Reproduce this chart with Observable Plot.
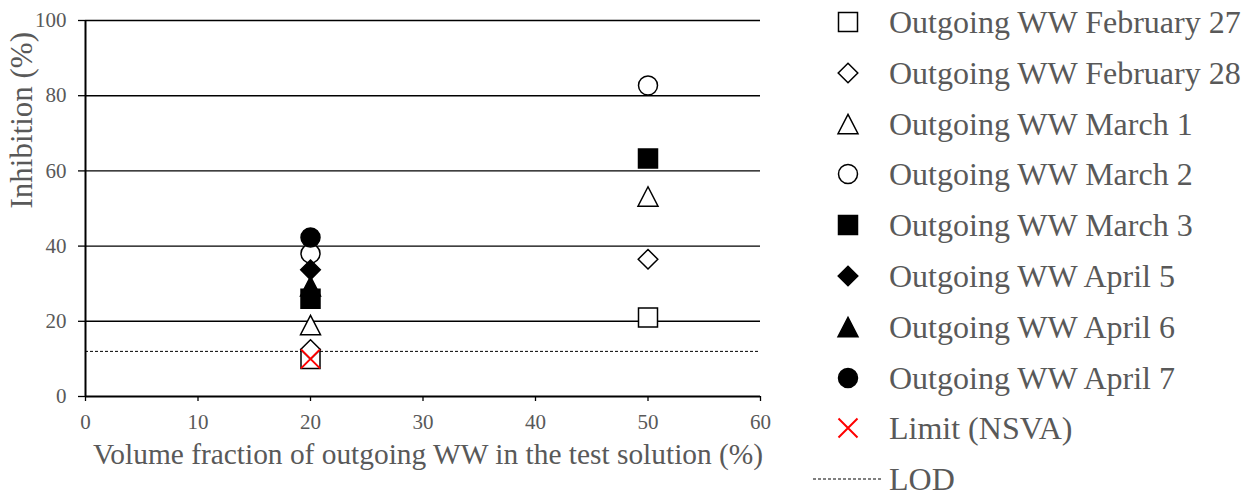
<!DOCTYPE html>
<html>
<head>
<meta charset="utf-8">
<script src="https://cdn.jsdelivr.net/npm/d3@7"></script>
<script src="https://cdn.jsdelivr.net/npm/@observablehq/plot@0.6"></script>
<style>
  html, body { margin: 0; padding: 0; background: #fff; }
  #wrap { position: relative; width: 1249px; height: 496px; font-family: "Liberation Serif", "Times New Roman", serif; }
  #chart { position: absolute; left: 0; top: 0; }
  #legend { position: absolute; left: 800px; top: 0; width: 449px; height: 496px; }
  .row { position: absolute; left: 0; height: 40px; display: flex; align-items: center; }
  .row svg { display: block; }
  .row span { position: absolute; left: 89px; font-size: 32px; color: #595959; white-space: nowrap; line-height: 40px; }
</style>
</head>
<body>
<div id="wrap"><div id="chart"></div><div id="legend"></div></div>
<script>
// ---- data ----
const seriesNames = [
  "Outgoing WW February 27",
  "Outgoing WW February 28",
  "Outgoing WW March 1",
  "Outgoing WW March 2",
  "Outgoing WW March 3",
  "Outgoing WW April 5",
  "Outgoing WW April 6",
  "Outgoing WW April 7"
];
const seriesFilled = [false, false, false, false, true, true, true, true];
const seriesShape = ["square", "diamond", "triangle", "circle", "square", "diamond", "triangle", "circle"];
const volumeFractions = [20, 50];
const inhibitionAt20 = [10, 12.5, 19, 38, 26, 33.7, 29.3, 42.3];
const inhibitionAt50 = [21, 36.5, 53.2, 82.7, 63.3, null, null, null];
const limitName = "Limit (NSVA)";
const limitX = [20];
const limitY = [10];
const lodName = "LOD";
const lodValue = 12;
const xTicks = [0, 10, 20, 30, 40, 50, 60];
const yTicks = [0, 20, 40, 60, 80, 100];
const xTitle = "Volume fraction of outgoing WW in the test solution (%)";
const yTitle = "Inhibition (%)";

// ---- symbols ----
const shapes = {
  square: {draw(c, size) { const r = Math.sqrt(size / Math.PI), s = 0.95 * r; c.moveTo(-s, -s); c.lineTo(s, -s); c.lineTo(s, s); c.lineTo(-s, s); c.closePath(); }},
  diamond: {draw(c, size) { const r = Math.sqrt(size / Math.PI), s = 0.98 * r; c.moveTo(0, -s); c.lineTo(s, 0); c.lineTo(0, s); c.lineTo(-s, 0); c.closePath(); }},
  triangle: {draw(c, size) { const r = Math.sqrt(size / Math.PI), w = r, h = 0.97 * r; c.moveTo(0, -h); c.lineTo(w, h); c.lineTo(-w, h); c.closePath(); }},
  circle: {draw(c, size) { const r = Math.sqrt(size / Math.PI) * 0.95; c.moveTo(r, 0); c.arc(0, 0, r, 0, 2 * Math.PI); }},
  times: {draw(c, size) { const r = Math.sqrt(size / Math.PI) * 0.95; c.moveTo(-r, -r); c.lineTo(r, r); c.moveTo(r, -r); c.lineTo(-r, r); }}
};

// ---- table ----
const rows = [];
seriesNames.forEach((name, i) => {
  [inhibitionAt20[i], inhibitionAt50[i]].forEach((v, j) => {
    if (v != null) rows.push({series: name, x: volumeFractions[j], y: v, fill: seriesFilled[i] ? "black" : "white", order: i});
  });
});
const limitRows = limitX.map((x, i) => ({x, y: limitY[i]}));

const textColor = "#595959";

const plot = Plot.plot({
  width: 800,
  height: 496,
  marginLeft: 85,
  marginRight: 40,
  marginTop: 20,
  marginBottom: 100,
  style: {fontFamily: "'Liberation Serif', 'Times New Roman', serif", background: "white"},
  x: {domain: [0, 60], ticks: xTicks},
  y: {domain: [0, 100], ticks: yTicks},
  symbol: {domain: seriesNames, range: seriesShape.map(s => shapes[s])},
  marks: [
    Plot.ruleY(yTicks.filter(d => d > 0), {stroke: "black", strokeWidth: 1.4}),
    Plot.ruleY([lodValue], {stroke: "black", strokeWidth: 1, strokeDasharray: "3,2"}),
    Plot.axisY({ticks: yTicks, tickSize: 7, tickPadding: 12, fontSize: 21, label: null, stroke: "black", strokeWidth: 1.3, color: textColor}),
    Plot.axisX({ticks: xTicks, tickSize: 5, tickPadding: 13, fontSize: 21, label: null, stroke: "black", strokeWidth: 1.3, color: textColor}),
    Plot.ruleX([0], {stroke: "black", strokeWidth: 2}),
    Plot.ruleY([0], {stroke: "black", strokeWidth: 2}),
    Plot.dot(rows, {x: "x", y: "y", symbol: "series", fill: "fill", stroke: "black", strokeWidth: 1.5, r: 10, sort: "order"}),
    Plot.dot(limitRows, {x: "x", y: "y", symbol: shapes.times, stroke: "red", strokeWidth: 2, r: 10}),
    Plot.text([yTitle], {frameAnchor: "left", dx: -63, rotate: -90, fontSize: 31, fill: textColor}),
    Plot.text([xTitle], {frameAnchor: "bottom", dy: 67, dx: 5, fontSize: 29.4, fill: textColor})
  ]
});
document.getElementById("chart").appendChild(plot);

// ---- legend ----
const legend = document.getElementById("legend");
const legendItems = seriesNames.map((name, i) => ({name, shape: shapes[seriesShape[i]], fill: seriesFilled[i] ? "black" : "white", stroke: "black", sw: 1.5}));
legendItems.push({name: limitName, shape: shapes.times, fill: "none", stroke: "red", sw: 2});
legendItems.push({name: lodName, lod: true});
legendItems.forEach((it, i) => {
  const cy = 22 + i * 50.8;
  const row = document.createElement("div");
  row.className = "row";
  row.style.top = (cy - 20) + "px";
  let svg;
  if (it.lod) {
    svg = `<svg width="90" height="40"><line x1="13" x2="81" y1="20" y2="20" stroke="black" stroke-width="1" stroke-dasharray="3,2"/></svg>`;
  } else {
    const p = d3.path();
    it.shape.draw(p, Math.PI * 100);
    svg = `<svg width="90" height="40"><path transform="translate(48,20)" d="${p.toString()}" fill="${it.fill}" stroke="${it.stroke}" stroke-width="${it.sw}"/></svg>`;
  }
  row.innerHTML = svg + `<span>${it.name}</span>`;
  legend.appendChild(row);
});
</script>
</body>
</html>
